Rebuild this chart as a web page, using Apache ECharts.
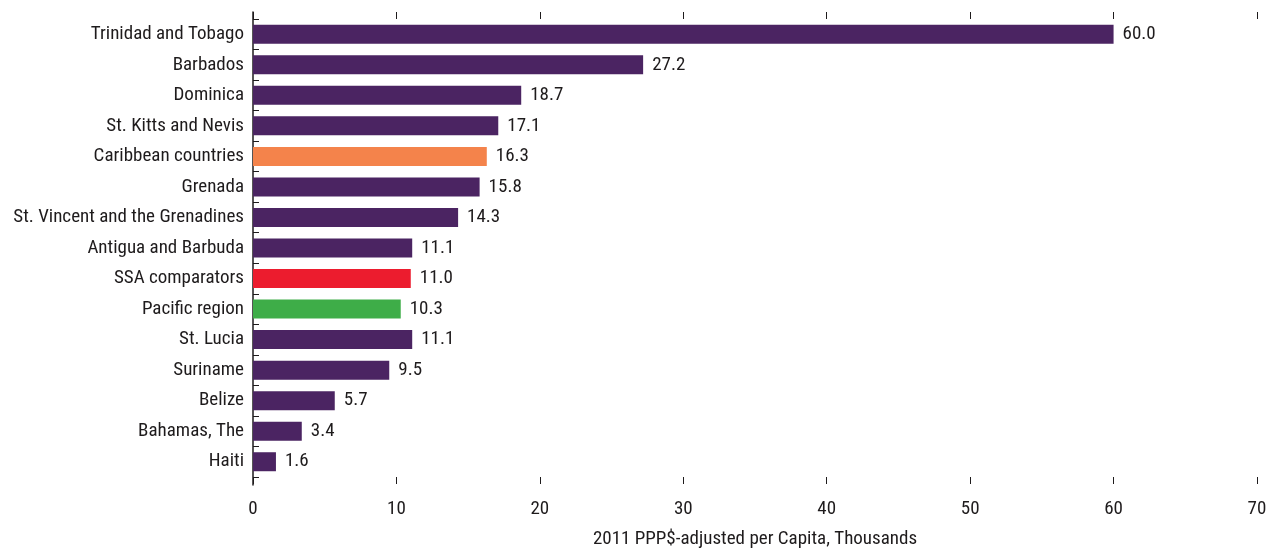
<!DOCTYPE html>
<html>
<head>
<meta charset="utf-8">
<script src="https://cdn.jsdelivr.net/npm/echarts@6/dist/echarts.min.js"></script>
<style>
html,body{margin:0;padding:0;background:#fff;}
#chart{width:1282px;height:551px;}
</style>
</head>
<body>
<div id="chart"></div>
<script>
const categories = ['Trinidad and Tobago','Barbados','Dominica','St. Kitts and Nevis','Caribbean countries','Grenada','St. Vincent and the Grenadines','Antigua and Barbuda','SSA comparators','Pacific region','St. Lucia','Suriname','Belize','Bahamas, The','Haiti'];
const values = [60.0, 27.2, 18.7, 17.1, 16.3, 15.8, 14.3, 11.1, 11.0, 10.3, 11.1, 9.5, 5.7, 3.4, 1.6];
const groups = ['country','country','country','country','caribbean','country','country','country','ssa','pacific','country','country','country','country','country'];
const xTicks = [0, 10, 20, 30, 40, 50, 60, 70];
const xTitle = '2011 PPP$-adjusted per Capita, Thousands';

const groupColors = {country:'#4B2462', caribbean:'#F4834B', ssa:'#EC1C2E', pacific:'#3EAD48'};
const FONT = "'Roboto Condensed','Liberation Sans Narrow',sans-serif";
const FS = 19;
const TXT = '#1E1B1C';

const chart = echarts.init(document.getElementById('chart'), null, {renderer:'canvas'});
chart.setOption({
  animation:false,
  backgroundColor:'#fff',
  grid:[
    {left:253, right:25, top:19, bottom:74, outerBoundsMode:'none'},
    {left:253, right:25, top:12, bottom:66, outerBoundsMode:'none'}
  ],
  xAxis:[
    {type:'value', gridIndex:0, position:'bottom', min:xTicks[0], max:xTicks[xTicks.length-1], interval:10,
     axisLine:{show:false}, splitLine:{show:false},
     axisTick:{show:true, inside:false, length:7, lineStyle:{color:TXT, width:1}},
     axisLabel:{color:TXT, fontFamily:FONT, fontSize:FS, margin:23},
     name:xTitle, nameLocation:'middle', nameGap:53,
     nameTextStyle:{color:TXT, fontFamily:FONT, fontSize:FS}},
    {type:'value', gridIndex:0, position:'top', min:xTicks[0], max:xTicks[xTicks.length-1], interval:10,
     axisLine:{show:false}, splitLine:{show:false},
     axisTick:{show:true, inside:false, length:7, lineStyle:{color:TXT, width:1}},
     axisLabel:{show:false}},
    {type:'value', gridIndex:1, show:false, min:0, max:70}
  ],
  yAxis:[
    {type:'category', gridIndex:0, data:categories, inverse:true,
     axisLine:{show:false},
     axisTick:{show:true, inside:true, length:6, alignWithLabel:false, lineStyle:{color:TXT, width:1}},
     axisLabel:{color:TXT, fontFamily:FONT, fontSize:FS, margin:9},
     splitLine:{show:false}},
    {type:'value', gridIndex:1, min:0, max:1,
     axisLine:{show:true, lineStyle:{color:TXT, width:1.5}},
     axisTick:{show:false}, axisLabel:{show:false}, splitLine:{show:false}}
  ],
  series:[{
    type:'bar', xAxisIndex:0, yAxisIndex:0,
    data: values.map((v,i)=>({value:v, itemStyle:{color:groupColors[groups[i]]}})),
    barWidth:19,
    label:{show:true, position:'right', distance:9, color:TXT, fontFamily:FONT, fontSize:FS,
      formatter:p=>p.value.toFixed(1)}
  }]
});
</script>
</body>
</html>
